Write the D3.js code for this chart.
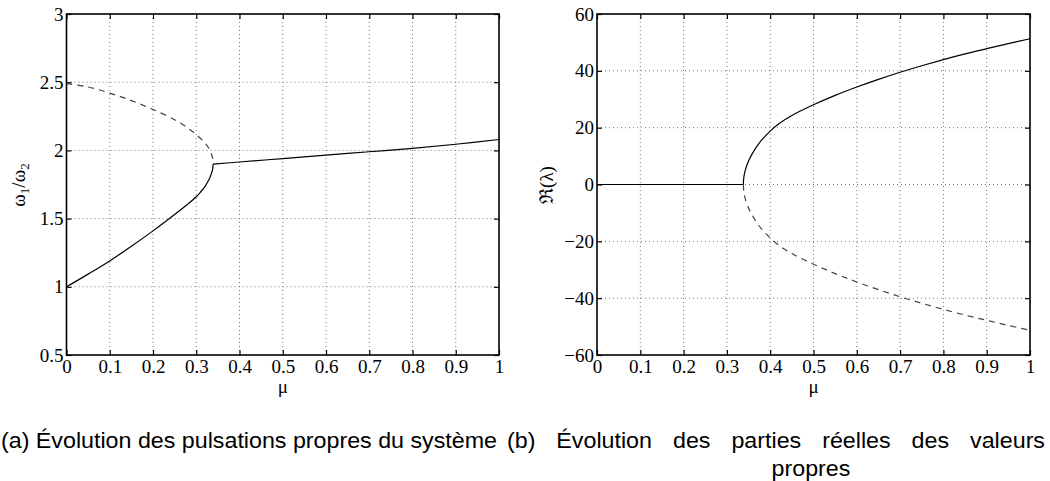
<!DOCTYPE html>
<html><head><meta charset="utf-8">
<script src="https://cdn.jsdelivr.net/npm/d3@7"></script>
<style>
body{margin:0;background:#fff;}
svg{display:block;}
.serif{font-family:"Liberation Serif","Times New Roman",Times,"DejaVu Serif",serif !important;}
</style></head>
<body><svg id="c" width="1050" height="481"></svg>
<script>
// ---- data ----
const xTicks = [0,0.1,0.2,0.3,0.4,0.5,0.6,0.7,0.8,0.9,1];
const yTicksA = [0.5,1,1.5,2,2.5,3];
const yTicksB = [-60,-40,-20,0,20,40,60];

// (a) ratio of pulsations
const muLow   = [0,0.05,0.1,0.15,0.2,0.25,0.28,0.3,0.31,0.32,0.33,0.335,0.338,0.339];
const omegaLow  = [1,1.093,1.19,1.297,1.41,1.53,1.605,1.66,1.695,1.735,1.79,1.83,1.865,1.90];
const muHigh  = [0,0.05,0.1,0.15,0.2,0.25,0.28,0.3,0.32,0.33,0.335,0.338,0.339];
const omegaHigh = [2.49,2.465,2.42,2.365,2.30,2.225,2.165,2.115,2.055,2.01,1.975,1.94,1.90];
const muMerged = [0.339,0.4,0.5,0.6,0.7,0.8,0.9,1];
const omegaMerged = [1.90,1.915,1.94,1.965,1.99,2.015,2.045,2.08];

// (b) real parts of eigenvalues
const muZero = [0,0.338];
const reZero = [0,0];
const muBranch = [0.338,0.339,0.342,0.35,0.36,0.37,0.38,0.4,0.42,0.45,0.5,0.55,0.6,0.65,0.7,0.75,0.8,0.85,0.9,0.95,1];
const reUpper = [0,2.4,4.8,8.3,11.2,13.6,15.6,18.8,21.4,24.3,28.05,31.35,34.3,37.0,39.5,41.8,43.95,45.95,47.8,49.6,51.3];
const reLower = [0,-2.4,-4.8,-8.3,-11.2,-13.6,-15.6,-18.8,-21.4,-24.3,-28.05,-31.35,-34.3,-37.0,-39.5,-41.8,-43.95,-45.95,-47.8,-49.6,-51.3];

const svg = d3.select("#c");
const fs = 19;
const sans = "'Liberation Sans', 'Noto Sans', sans-serif";

function panel(x0,x1,y0,y1,yDom,yTicks,fmtY){
  const g = svg.append("g");
  const x = d3.scaleLinear().domain([0,1]).range([x0,x1]);
  const y = d3.scaleLinear().domain(yDom).range([y1,y0]);
  g.selectAll(".gx").data(xTicks.slice(1,-1)).enter().append("line")
    .attr("x1",d=>x(d)).attr("x2",d=>x(d)).attr("y1",y0).attr("y2",y1)
    .attr("stroke","#777").attr("stroke-width",1).attr("stroke-dasharray","1,3");
  g.selectAll(".gy").data(yTicks.slice(1,-1)).enter().append("line")
    .attr("y1",d=>y(d)).attr("y2",d=>y(d)).attr("x1",x0).attr("x2",x1)
    .attr("stroke","#777").attr("stroke-width",1).attr("stroke-dasharray","1,3");
  const ax = g.append("g").attr("transform",`translate(0,${y1})`)
    .call(d3.axisBottom(x).tickValues(xTicks).tickSize(-5).tickPadding(3).tickFormat(d3.format("")));
  const axT = g.append("g").attr("transform",`translate(0,${y0})`)
    .call(d3.axisTop(x).tickValues(xTicks).tickSize(-5).tickFormat(""));
  const ay = g.append("g").attr("transform",`translate(${x0},0)`)
    .call(d3.axisLeft(y).tickValues(yTicks).tickSize(-5).tickPadding(3).tickFormat(fmtY));
  const ayR = g.append("g").attr("transform",`translate(${x1},0)`)
    .call(d3.axisRight(y).tickValues(yTicks).tickSize(-5).tickFormat(""));
  [ax,axT,ay,ayR].forEach(a=>{
    a.attr("font-family",null).attr("font-size",null).attr("class","serif");
    a.select(".domain").remove();
    a.selectAll("line").attr("stroke","#000").attr("stroke-width",1.2);
    a.selectAll("text").attr("class","serif").style("font-size",fs+"px").attr("fill","#000");
  });
  ax.selectAll("text").attr("dy","0.78em");
  g.append("rect").attr("x",x0).attr("y",y0).attr("width",x1-x0).attr("height",y1-y0)
    .attr("fill","none").attr("stroke","#000").attr("stroke-width",1.6);
  return {g,x,y};
}

function drawLine(p,xs,ys,dashed){
  const pts = xs.map((d,i)=>[d,ys[i]]);
  p.g.append("path").datum(pts)
    .attr("d",d3.line().x(d=>p.x(d[0])).y(d=>p.y(d[1])).curve(d3.curveCatmullRom.alpha(0.5)))
    .attr("fill","none").attr("stroke",dashed?"#444":"#000")
    .attr("stroke-width",1.2).attr("stroke-dasharray",dashed?"6,5":null);
}

const A = panel(66.5,499,14,355,[0.5,3],yTicksA,d=>d3.format("")(d));
drawLine(A,muHigh,omegaHigh,true);
drawLine(A,muLow,omegaLow,false);
drawLine(A,muMerged,omegaMerged,false);

const minus = d=> d<0 ? "\u2212"+Math.abs(d) : String(d);
const B = panel(597,1030,14,355,[-60,60],yTicksB,minus);
drawLine(B,muZero,reZero,false);
drawLine(B,muBranch,reUpper,false);
drawLine(B,muBranch,reLower,true);

// axis labels
svg.append("text").attr("class","serif").attr("x",(66.5+499)/2).attr("y",393).attr("text-anchor","middle")
  .style("font-size",fs+"px").text("μ");
svg.append("text").attr("class","serif").attr("x",(597+1030)/2).attr("y",393).attr("text-anchor","middle")
  .style("font-size",fs+"px").text("μ");

const yl = svg.append("text").attr("class","serif").attr("transform","translate(25,185) rotate(-90)")
  .attr("text-anchor","middle").style("font-size",fs+"px");
yl.append("tspan").text("ω");
yl.append("tspan").style("font-size","13px").attr("dy",4).text("1");
yl.append("tspan").attr("dy",-4).text("/ω");
yl.append("tspan").style("font-size","13px").attr("dy",4).text("2");

svg.append("text").attr("class","serif").attr("transform","translate(553,185) rotate(-90)")
  .attr("text-anchor","middle").style("font-size",fs+"px").text("ℜ(λ)");

// captions
const capFs = 22;
const capA = svg.append("text").attr("x",1).attr("y",448).style("font-family",sans).style("font-size",capFs+"px")
  .text("(a) Évolution des pulsations propres du système");
const natA = capA.node().getComputedTextLength();
const sq = 496/natA;
capA.attr("textLength",496).attr("lengthAdjust","spacingAndGlyphs");

const wordsB = ["(b)","Évolution","des","parties","réelles","des","valeurs"];
const capB = svg.append("g").style("font-family",sans).style("font-size",capFs+"px");
const tmp = wordsB.map(w=>capB.append("text").attr("y",448).text(w));
const widths = tmp.map(t=>t.node().getComputedTextLength()*sq);
const total = d3.sum(widths);
const gap = (1045-507-total)/(wordsB.length-1);
let cx = 507;
tmp.forEach((t,i)=>{
  t.attr("x",cx).attr("textLength",widths[i]).attr("lengthAdjust","spacingAndGlyphs");
  cx += widths[i]+gap;
});
const pr = capB.append("text").attr("x",811).attr("y",476).attr("text-anchor","middle").text("propres");
pr.attr("textLength",pr.node().getComputedTextLength()*sq).attr("lengthAdjust","spacingAndGlyphs");
</script></body></html>
